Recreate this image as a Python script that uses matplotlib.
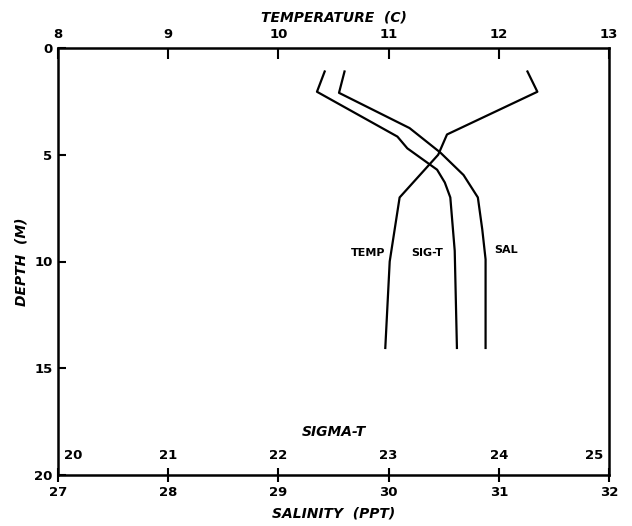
import numpy as np
import matplotlib
matplotlib.use("Agg")
import matplotlib.pyplot as plt
from matplotlib.transforms import ScaledTranslation

# CTD cast profiles (depth in m)
temp_depth = [1.1, 2.05, 4.05, 5.0, 7.0, 8.0, 10.0, 14.05]
temp = [12.26, 12.35, 11.53, 11.45, 11.10, 11.07, 11.01, 10.97]

sig_depth = [1.1, 2.05, 4.15, 4.7, 5.7, 6.3, 7.0, 9.5, 14.05]
sigma_t = [22.42, 22.35, 23.08, 23.17, 23.44, 23.51, 23.56, 23.60, 23.62]

sal_depth = [1.1, 2.1, 3.75, 4.9, 5.95, 7.0, 8.5, 9.9, 14.05]
sal = [29.60, 29.55, 30.19, 30.47, 30.68, 30.81, 30.85, 30.88, 30.88]

depth_ticks = [0, 5, 10, 15, 20]
sal_ticks = [27, 28, 29, 30, 31, 32]
temp_ticks = [8, 9, 10, 11, 12, 13]
sig_ticks = [20, 21, 22, 23, 24, 25]

plt.rcParams['font.family'] = 'DejaVu Sans'
plt.rcParams['font.weight'] = 'bold'
tick_font = 9.5
title_font = dict(fontsize=10, fontweight='bold', fontstyle='italic')

fig = plt.figure(figsize=(6.32, 5.26), dpi=100)
ax = fig.add_axes([58/632, 51/526, 551/632, 427/526])

# salinity on the main axis
ax.plot(sal, sal_depth, 'k', lw=1.6)
ax.set_xlim(27, 32)
ax.set_ylim(20, 0)
ax.set_xticks(sal_ticks)
ax.set_yticks(depth_ticks)
ax.tick_params(axis='x', direction='inout', length=10, width=1.5,
               labelsize=tick_font, pad=3)
ax.tick_params(axis='y', direction='in', length=6, width=1.5,
               labelsize=tick_font, pad=4)
for s in ax.spines.values():
    s.set_linewidth(1.8)
ax.set_xlabel('SALINITY  (PPT)', labelpad=5, **title_font)
ax.set_ylabel('DEPTH  (M)', labelpad=4, **title_font)

# temperature along the top
ax_t = ax.twiny()
ax_t.plot(temp, temp_depth, 'k', lw=1.6)
ax_t.set_xlim(8, 13)
ax_t.set_xticks(temp_ticks)
ax_t.tick_params(axis='x', direction='in', length=8, width=1.5,
                 labelsize=tick_font, pad=5)
ax_t.set_xlabel('TEMPERATURE  (C)', labelpad=5, **title_font)
for s in ax_t.spines.values():
    s.set_visible(False)

# sigma-t, labels written inside the bottom edge
ax_s = ax.twiny()
ax_s.plot(sigma_t, sig_depth, 'k', lw=1.6)
ax_s.set_xlim(20, 25)
ax_s.set_xticks(sig_ticks)
ax_s.xaxis.set_ticks_position('bottom')
ax_s.tick_params(axis='x', length=0, labelsize=tick_font, pad=-19,
                 labelbottom=True, labeltop=False)
for s in ax_s.spines.values():
    s.set_visible(False)
labels = ax_s.get_xticklabels()
labels[0].set_ha('left')
labels[0].set_transform(labels[0].get_transform() +
                        ScaledTranslation(4/72, 0, fig.dpi_scale_trans))
labels[-1].set_ha('right')
labels[-1].set_transform(labels[-1].get_transform() +
                         ScaledTranslation(-4/72, 0, fig.dpi_scale_trans))
ax.text(0.5, 0.1, 'SIGMA-T', transform=ax.transAxes, ha='center',
        va='center', **title_font)

# curve names
ax.text(29.97, 9.6, 'TEMP', ha='right', va='center', fontsize=8, fontweight='bold')
ax.text(30.21, 9.6, 'SIG-T', ha='left', va='center', fontsize=8, fontweight='bold')
ax.text(30.96, 9.45, 'SAL', ha='left', va='center', fontsize=8, fontweight='bold')

fig.savefig('out.png', dpi=100)
